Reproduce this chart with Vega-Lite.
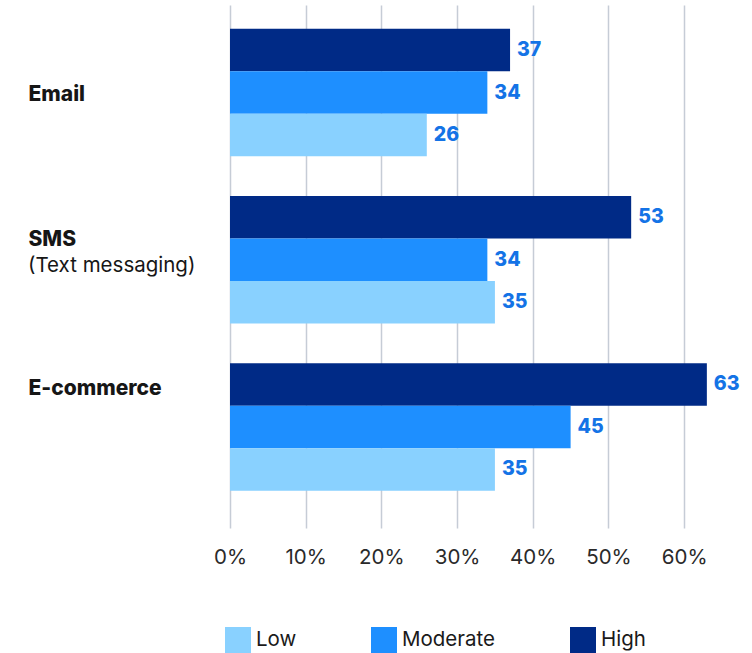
{
  "$schema": "https://vega.github.io/schema/vega-lite/v6.json",
  "width": 492,
  "height": 523,
  "autosize": {"type": "none"},
  "padding": {"left": 230, "top": 5, "right": 30, "bottom": 125},
  "background": "white",
  "config": {
    "view": {"stroke": null},
    "font": "Inter"
  },
  "datasets": {
    "bars": [
      {"channel": "Email", "level": "High", "value": 37},
      {"channel": "Email", "level": "Moderate", "value": 34},
      {"channel": "Email", "level": "Low", "value": 26},
      {"channel": "SMS", "level": "High", "value": 53},
      {"channel": "SMS", "level": "Moderate", "value": 34},
      {"channel": "SMS", "level": "Low", "value": 35},
      {"channel": "E-commerce", "level": "High", "value": 63},
      {"channel": "E-commerce", "level": "Moderate", "value": 45},
      {"channel": "E-commerce", "level": "Low", "value": 35}
    ],
    "subs": [
      {"channel": "SMS", "sub": "(Text messaging)"}
    ]
  },
  "layer": [
    {
      "data": {"name": "bars"},
      "mark": {"type": "bar"},
      "encoding": {
        "y": {
          "field": "channel",
          "type": "nominal",
          "scale": {"domain": ["Email", "SMS", "E-commerce"], "paddingInner": 0.238, "paddingOuter": 0.183, "align": 0.39},
          "axis": {
            "title": null,
            "ticks": false,
            "domain": false,
            "labelAlign": "left",
            "labelPadding": 202,
            "labelFont": "Inter",
            "labelFontSize": 21,
            "labelFontWeight": 800,
            "labelColor": "#161616",
            "labelBaseline": "middle",
            "labelOffset": {"condition": [{"test": "datum.value === 'SMS'", "value": -20}, {"test": "datum.value === 'E-commerce'", "value": -38}], "value": 2}
          }
        },
        "yOffset": {
          "field": "level",
          "type": "nominal",
          "sort": ["High", "Moderate", "Low"],
          "scale": {"paddingInner": 0, "paddingOuter": 0}
        },
        "x": {
          "field": "value",
          "type": "quantitative",
          "scale": {"domain": [0, 65], "nice": false, "zero": true},
          "axis": {
            "title": null,
            "values": [0, 10, 20, 30, 40, 50, 60],
            "labelExpr": "datum.value + '%'",
            "labelFlush": false,
            "ticks": false,
            "domain": false,
            "grid": true,
            "gridColor": "#c6ccd6",
            "gridWidth": 1.5,
            "labelFont": "Inter",
            "labelFontSize": 20.5,
            "labelColor": "#2a2a2a",
            "labelPadding": 19
          }
        },
        "color": {
          "field": "level",
          "type": "nominal",
          "scale": {"domain": ["Low", "Moderate", "High"], "range": ["#89d1ff", "#1e8fff", "#002a86"]},
          "legend": {
            "title": null,
            "orient": "none",
            "direction": "horizontal",
            "legendX": -5,
            "legendY": 622,
            "symbolType": "square",
            "symbolSize": 676,
            "symbolStrokeWidth": 0,
            "labelFont": "Inter",
            "labelFontSize": 20.5,
            "labelColor": "#1a1a1a",
            "labelOffset": 5,
            "columnPadding": 74
          }
        }
      }
    },
    {
      "data": {"name": "bars"},
      "mark": {"type": "text", "align": "left", "baseline": "middle", "dx": 7, "fontSize": 19.5, "fontWeight": 800, "font": "Inter", "color": "#1473e6"},
      "encoding": {
        "y": {"field": "channel", "type": "nominal", "scale": {"domain": ["Email", "SMS", "E-commerce"]}},
        "yOffset": {"field": "level", "type": "nominal", "sort": ["High", "Moderate", "Low"]},
        "x": {"field": "value", "type": "quantitative"},
        "text": {"field": "value", "type": "quantitative"}
      }
    },
    {
      "data": {"name": "subs"},
      "mark": {"type": "text", "align": "left", "baseline": "middle", "dx": -202, "dy": 6, "fontSize": 20.5, "font": "Inter", "color": "#161616"},
      "encoding": {
        "y": {"field": "channel", "type": "nominal", "scale": {"domain": ["Email", "SMS", "E-commerce"]}},
        "x": {"datum": 0, "type": "quantitative"},
        "text": {"field": "sub", "type": "nominal"}
      }
    }
  ]
}
